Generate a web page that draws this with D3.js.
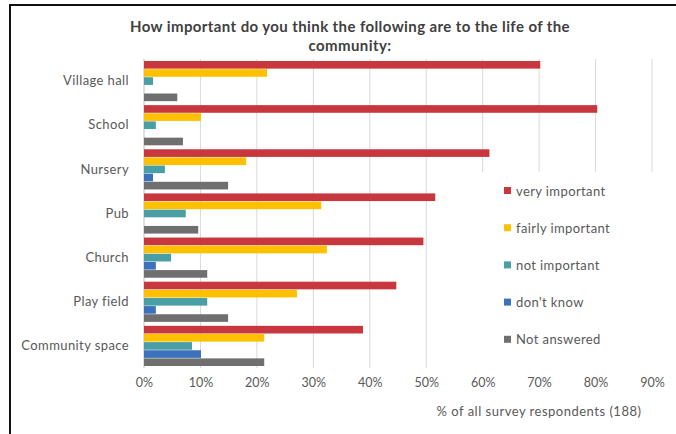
<!DOCTYPE html>
<html>
<head>
<meta charset="utf-8">
<script src="https://cdn.jsdelivr.net/npm/d3@7"></script>
<style>
  body { margin: 0; background: #fff; }
  svg { font-family: Lato, "Open Sans", sans-serif; }
</style>
</head>
<body>
<div id="chart"></div>
<script>
// survey answers, % of all respondents (188)
const categories = ['Village hall', 'School', 'Nursery', 'Pub', 'Church', 'Play field', 'Community space'];
const seriesNames = ['very important', 'fairly important', 'not important', "don't know", 'Not answered'];
const veryImportant   = [70.2, 80.3, 61.2, 51.6, 49.5, 44.7, 38.8];
const fairlyImportant = [21.8, 10.1, 18.1, 31.4, 32.4, 27.1, 21.3];
const notImportant    = [1.6, 2.1, 3.7, 7.4, 4.8, 11.2, 8.5];
const dontKnow        = [0, 0, 1.6, 0, 2.1, 2.1, 10.1];
const notAnswered     = [5.9, 6.9, 14.9, 9.6, 11.2, 14.9, 21.3];
const ticks = [0, 10, 20, 30, 40, 50, 60, 70, 80, 90];
const colors = ['#c8373d', '#ffc000', '#4a9fa6', '#3b72bb', '#6f6f6f'];

const series = [veryImportant, fairlyImportant, notImportant, dontKnow, notAnswered];
const width = 676, height = 434;
const margin = { top: 59, left: 144, right: 24, bottom: 66 };

const svg = d3.select('#chart').append('svg')
  .attr('width', width)
  .attr('height', height);

// frame of the scanned chart
svg.append('line').attr('x1', 10).attr('x2', 10).attr('y1', 4).attr('y2', 434)
  .attr('stroke', '#111').attr('stroke-width', 2);
svg.append('line').attr('x1', 9).attr('x2', 676).attr('y1', 5).attr('y2', 5)
  .attr('stroke', '#111').attr('stroke-width', 2);

const x = d3.scaleLinear().domain([0, 90]).range([margin.left, 652]);
const y = d3.scaleBand().domain(categories)
  .range([margin.top, height - margin.bottom]).paddingInner(0.09).paddingOuter(0.045);
const ys = d3.scaleBand().domain(d3.range(seriesNames.length))
  .range([0, y.bandwidth()]).paddingInner(0.06);

// gridlines
svg.append('g').selectAll('line').data(ticks).join('line')
  .attr('x1', d => x(d)).attr('x2', d => x(d))
  .attr('y1', margin.top).attr('y2', height - margin.bottom)
  .attr('stroke', d => d === 0 ? '#bfbfbf' : '#d9d9d9')
  .attr('stroke-width', 1);

// bars
series.forEach((vals, si) => {
  svg.append('g').selectAll('rect').data(vals).join('rect')
    .attr('x', x(0))
    .attr('y', (d, i) => y(categories[i]) + ys(si))
    .attr('width', d => x(d) - x(0))
    .attr('height', ys.bandwidth())
    .attr('fill', colors[si]);
});

// category labels
const yAxis = svg.append('g')
  .attr('transform', `translate(${margin.left - 15},0)`)
  .call(d3.axisLeft(y).tickSize(0).tickPadding(0));
yAxis.select('.domain').remove();
yAxis.selectAll('text').attr('font-size', 13).attr('fill', '#595959')
  .attr('letter-spacing', 0.4).attr('font-family', 'Lato, sans-serif');

// x axis labels
const xAxis = svg.append('g')
  .attr('transform', `translate(0,${height - margin.bottom})`)
  .call(d3.axisBottom(x).tickValues(ticks).tickFormat(d => d + '%').tickSize(0).tickPadding(10));
xAxis.select('.domain').remove();
xAxis.selectAll('text').attr('font-size', 12.5).attr('fill', '#595959')
  .attr('font-family', 'Lato, sans-serif');

svg.append('text')
  .attr('x', 539).attr('y', 416)
  .attr('text-anchor', 'middle')
  .attr('font-size', 13).attr('letter-spacing', 0.5).attr('fill', '#595959')
  .text('% of all survey respondents (188)');

// title
const title = svg.append('text')
  .attr('text-anchor', 'middle')
  .attr('font-size', 15).attr('letter-spacing', 0.4)
  .attr('font-weight', 'bold').attr('fill', '#404040');
title.append('tspan').attr('x', 350).attr('y', 32)
  .text('How important do you think the following are to the life of the');
title.append('tspan').attr('x', 350).attr('y', 51).text('community:');

// legend
svg.append('rect')
  .attr('x', 438).attr('y', 172).attr('width', 218).attr('height', 196)
  .attr('fill', '#fff');
const legend = svg.append('g').selectAll('g').data(seriesNames).join('g')
  .attr('transform', (d, i) => `translate(504,${191 + i * 37.2})`);
legend.append('rect')
  .attr('x', 0).attr('y', -4).attr('width', 7).attr('height', 7)
  .attr('fill', (d, i) => colors[i]);
legend.append('text')
  .attr('x', 12).attr('y', 0).attr('dy', '0.35em')
  .attr('font-size', 13).attr('letter-spacing', 0.4).attr('fill', '#595959')
  .text(d => d);
</script>
</body>
</html>
